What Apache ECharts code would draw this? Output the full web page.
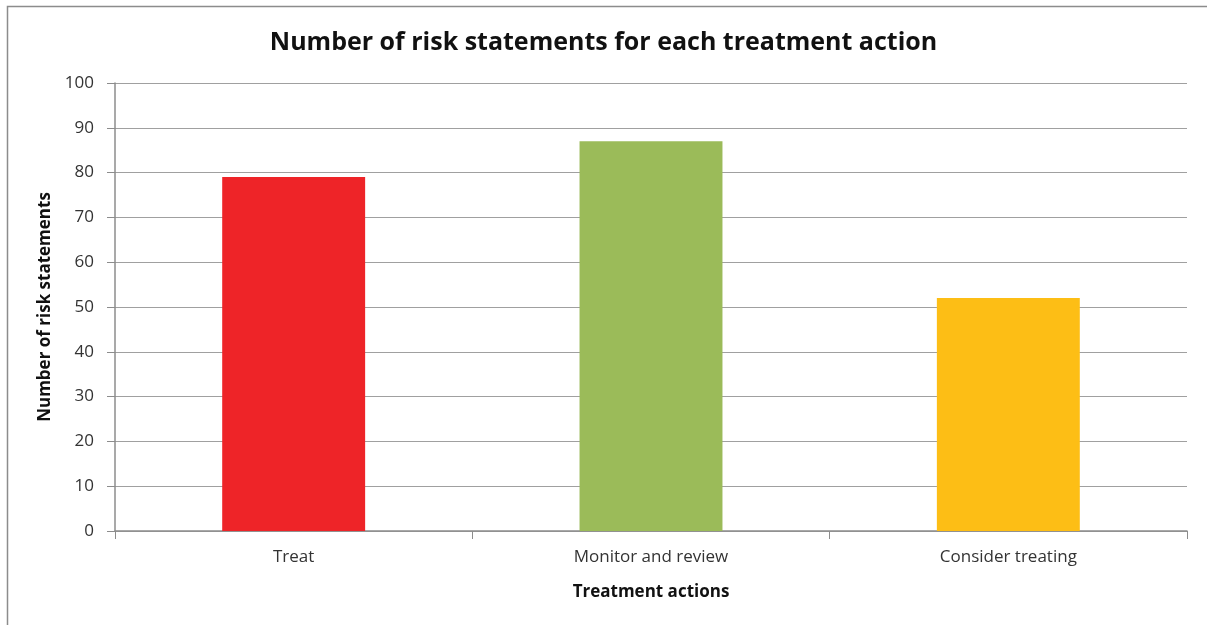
<!DOCTYPE html>
<html>
<head>
<meta charset="utf-8">
<script src="https://cdn.jsdelivr.net/npm/echarts@6/dist/echarts.min.js"></script>
<style>html,body{margin:0;padding:0;background:#fff;}#c{width:1207px;height:625px;}</style>
</head>
<body>
<div id="c"></div>
<script>
const categories = ['Treat', 'Monitor and review', 'Consider treating'];
const values = [79, 87, 52];
const barColors = ['#EE2428', '#9BBB59', '#FDBE15'];
const yTicks = { min: 0, max: 100, interval: 10 };

const chart = echarts.init(document.getElementById('c'));
const font = '"Open Sans", "Noto Sans", sans-serif';
chart.setOption({
  animation: false,
  graphic: [{
    type: 'rect', left: 5, top: 4,
    shape: { width: 1300, height: 700 },
    style: { fill: 'none', stroke: '#8c8c8c', lineWidth: 1.5 }
  }],
  title: {
    text: 'Number of risk statements for each treatment action',
    left: 'center', top: 25,
    textStyle: { fontFamily: font, fontWeight: 'bold', fontSize: 25, color: '#111' }
  },
  grid: { left: 115, right: 20, top: 83, bottom: 94 },
  xAxis: {
    type: 'category', data: categories,
    name: 'Treatment actions', nameLocation: 'middle', nameGap: 53,
    nameTextStyle: { fontFamily: font, fontWeight: 'bold', fontSize: 17, color: '#111' },
    axisLine: { lineStyle: { color: '#8c8c8c', width: 1.5 } },
    axisTick: { show: true, length: 8, alignWithLabel: false, lineStyle: { color: '#8c8c8c' } },
    axisLabel: { fontFamily: font, fontSize: 17, color: '#333', margin: 18 }
  },
  yAxis: {
    type: 'value', min: yTicks.min, max: yTicks.max, interval: yTicks.interval,
    name: 'Number of risk statements', nameLocation: 'middle', nameGap: 61, nameRotate: 90,
    nameTextStyle: { fontFamily: font, fontWeight: 'bold', fontSize: 17, color: '#111' },
    axisLine: { show: true, lineStyle: { color: '#8c8c8c', width: 1.5 } },
    axisTick: { show: true, length: 8, lineStyle: { color: '#8c8c8c' } },
    axisLabel: { fontFamily: font, fontSize: 17, color: '#333', margin: 21 },
    splitLine: { lineStyle: { color: '#a0a0a0', width: 1.2 } }
  },
  series: [{
    type: 'bar', barWidth: '40%',
    data: values.map((v, i) => ({ value: v, itemStyle: { color: barColors[i] } }))
  }]
});
</script>
</body>
</html>
